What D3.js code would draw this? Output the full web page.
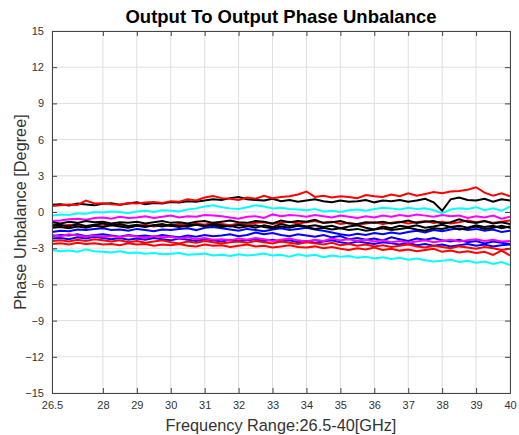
<!DOCTYPE html>
<html><head><meta charset="utf-8">
<script src="https://cdn.jsdelivr.net/npm/d3@7"></script>
<style>
html,body{margin:0;padding:0;background:#fff;}
text{font-family:"Liberation Sans",Arial,sans-serif;}
</style></head>
<body><svg id="chart" width="519" height="435"></svg>
<script>
const title = "Output To Output Phase Unbalance";
const xLabel = "Frequency Range:26.5-40[GHz]";
const yLabel = "Phase Unbalance [Degree]";
const xTicks = [26.5, 28, 29, 30, 31, 32, 33, 34, 35, 36, 37, 38, 39, 40];
const yTicks = [-15, -12, -9, -6, -3, 0, 3, 6, 9, 12, 15];
const freqs = d3.range(0, 55).map(i => 26.5 + i * 0.25);

const blueUpper = [-1.65,-1.55,-1.60,-1.45,-1.50,-1.40,-1.35,-1.50,-1.45,-1.55,-1.40,-1.50,-1.60,-1.45,-1.50,-1.40,-1.35,-1.50,-1.30,-1.25,-1.35,-1.45,-1.55,-1.40,-1.50,-1.60,-1.45,-1.35,-1.50,-1.40,-1.30,-1.45,-1.55,-1.70,-1.85,-1.95,-1.80,-1.90,-1.75,-1.85,-1.70,-1.80,-1.65,-1.55,-1.70,-1.50,-1.60,-1.45,-1.35,-1.50,-1.40,-1.55,-1.45,-1.65,-1.55];
const blueMid = [-2.00,-1.90,-1.95,-1.85,-2.00,-1.90,-1.85,-1.95,-2.05,-1.90,-2.00,-1.95,-2.05,-1.90,-2.00,-2.10,-1.95,-2.05,-1.90,-2.00,-1.95,-1.85,-2.00,-1.90,-1.70,-1.85,-1.75,-1.90,-2.00,-1.85,-1.95,-2.05,-1.90,-2.10,-2.00,-2.25,-2.15,-2.30,-2.20,-2.35,-2.10,-2.25,-2.40,-2.20,-2.30,-2.15,-2.35,-2.45,-2.30,-2.50,-2.40,-2.60,-2.45,-2.55,-2.65];
const blueLower = [-2.20,-2.15,-2.25,-2.10,-2.20,-2.05,-2.15,-2.25,-2.15,-2.30,-2.20,-2.30,-2.15,-2.25,-2.35,-2.20,-2.30,-2.40,-2.25,-2.35,-2.45,-2.30,-2.40,-2.35,-2.25,-2.40,-2.30,-2.45,-2.35,-2.50,-2.40,-2.55,-2.45,-2.35,-2.50,-2.60,-2.45,-2.55,-2.65,-2.50,-2.60,-2.70,-2.55,-2.75,-2.65,-2.80,-2.70,-2.85,-2.75,-2.65,-2.80,-2.70,-2.85,-2.75,-2.70];
const magentaTop = [-0.75,-0.70,-0.60,-0.55,-0.65,-0.50,-0.45,-0.55,-0.40,-0.50,-0.45,-0.35,-0.50,-0.40,-0.30,-0.45,-0.35,-0.40,-0.25,-0.30,-0.35,-0.45,-0.55,-0.40,-0.35,-0.50,-0.20,-0.35,-0.25,-0.30,-0.40,-0.25,-0.35,-0.45,-0.30,-0.40,-0.50,-0.35,-0.45,-0.30,-0.40,-0.25,-0.35,-0.20,-0.30,-0.40,-0.25,-0.35,-0.30,-0.50,-0.35,-0.45,-0.30,-0.55,-0.40];
const magentaLower = [-1.90,-2.00,-1.85,-1.95,-2.05,-1.95,-2.05,-2.00,-2.10,-1.95,-2.05,-2.15,-2.00,-2.10,-2.05,-2.20,-2.10,-2.25,-2.15,-2.30,-2.25,-2.35,-2.20,-2.30,-2.15,-2.25,-2.40,-2.30,-2.20,-2.35,-2.45,-2.30,-2.40,-2.20,-2.35,-2.25,-2.40,-2.30,-2.45,-2.35,-2.50,-2.40,-2.55,-2.45,-2.35,-2.50,-2.40,-2.30,-2.45,-2.35,-2.25,-2.40,-2.30,-2.45,-2.40];
const redLowerA = [-2.40,-2.35,-2.45,-2.30,-2.40,-2.25,-2.35,-2.45,-2.35,-2.50,-2.40,-2.55,-2.45,-2.35,-2.50,-2.60,-2.45,-2.55,-2.40,-2.50,-2.60,-2.50,-2.45,-2.55,-2.40,-2.50,-2.60,-2.45,-2.55,-2.65,-2.50,-2.60,-2.70,-2.55,-2.75,-2.65,-2.80,-2.70,-2.85,-2.75,-2.90,-2.80,-2.70,-2.85,-2.95,-2.80,-2.90,-3.00,-2.85,-2.95,-3.05,-2.90,-3.00,-3.15,-3.05];
const redLowerB = [-2.65,-2.60,-2.70,-2.55,-2.65,-2.60,-2.70,-2.65,-2.75,-2.60,-2.70,-2.65,-2.80,-2.70,-2.75,-2.65,-2.80,-2.85,-2.70,-2.80,-2.75,-2.90,-2.80,-2.70,-2.85,-2.80,-2.95,-2.85,-2.75,-2.90,-2.95,-2.85,-3.00,-2.90,-3.05,-3.15,-3.00,-3.10,-2.95,-3.15,-3.05,-3.20,-3.10,-3.25,-3.15,-3.05,-3.30,-3.20,-3.35,-3.25,-3.40,-3.30,-3.55,-3.20,-3.60];
const cyanTop = [-0.30,-0.20,-0.25,-0.10,-0.15,0.00,-0.05,0.05,0.00,-0.10,0.05,0.10,0.00,0.15,0.10,0.05,0.20,0.30,0.45,0.55,0.40,0.30,0.25,0.40,0.55,0.45,0.30,0.35,0.25,0.20,0.15,0.25,0.05,0.10,0.00,0.15,0.20,0.10,0.25,0.35,0.30,0.20,0.35,0.25,0.30,0.15,-0.10,0.20,0.30,0.25,0.40,0.15,0.30,0.10,0.45];
const cyanLow = [-3.15,-3.25,-3.20,-3.30,-3.10,-3.25,-3.30,-3.35,-3.25,-3.40,-3.35,-3.45,-3.40,-3.50,-3.45,-3.40,-3.55,-3.50,-3.45,-3.60,-3.55,-3.65,-3.50,-3.60,-3.55,-3.45,-3.60,-3.55,-3.70,-3.50,-3.65,-3.55,-3.75,-3.60,-3.70,-3.65,-3.80,-3.70,-3.85,-3.75,-3.90,-3.80,-3.95,-3.85,-4.00,-4.10,-4.05,-3.95,-4.15,-4.05,-4.20,-4.10,-4.30,-4.15,-4.40];
const blackMidA = [-0.85,-0.95,-0.80,-0.90,-0.75,-0.85,-0.80,-0.95,-0.85,-0.90,-0.80,-0.95,-0.85,-0.75,-0.90,-0.85,-0.95,-0.80,-0.75,-0.90,-0.80,-0.70,-0.85,-0.90,-0.75,-0.80,-0.95,-0.70,-0.85,-0.75,-0.80,-0.65,-0.90,-0.85,-0.75,-0.95,-1.00,-0.85,-0.90,-0.80,-0.95,-0.85,-0.70,-0.90,-0.80,-0.75,-0.95,-0.85,-0.60,-0.80,-0.90,-0.75,-0.95,-0.85,-1.00];
const blackMidB = [-1.10,-1.05,-1.20,-1.00,-1.15,-1.05,-0.95,-1.10,-1.00,-1.15,-1.05,-1.20,-1.10,-1.00,-1.15,-1.25,-1.10,-1.05,-1.15,-1.00,-1.10,-1.20,-1.05,-1.15,-1.30,-1.10,-1.25,-1.00,-1.15,-1.05,-1.20,-1.10,-1.25,-1.15,-1.35,-1.20,-1.10,-1.30,-1.45,-1.20,-1.35,-1.15,-1.25,-1.10,-1.30,-1.20,-1.05,-1.25,-1.15,-1.30,-1.10,-1.25,-1.15,-1.35,-1.20];
const blackMidC = [-1.30,-1.25,-1.35,-1.20,-1.30,-1.15,-1.25,-1.10,-1.20,-1.30,-1.15,-1.25,-1.10,-1.20,-1.05,-1.15,-1.20,-1.05,-1.15,-1.10,-1.25,-1.15,-1.30,-1.20,-1.10,-1.25,-1.35,-1.20,-1.30,-1.15,-1.25,-1.40,-1.30,-1.45,-1.35,-1.50,-1.40,-1.55,-1.45,-1.35,-1.50,-1.40,-1.30,-1.45,-1.55,-1.35,-1.40,-1.25,-1.45,-1.35,-1.20,-1.40,-1.30,-1.15,-1.30];
const blackTop = [0.60,0.65,0.55,0.70,0.62,0.55,0.68,0.72,0.60,0.70,0.80,0.65,0.75,0.70,0.82,0.78,0.90,0.85,0.95,1.05,1.00,1.15,1.25,1.05,1.00,0.95,1.10,0.90,1.00,0.85,0.95,1.05,0.90,0.80,0.95,0.85,0.90,1.00,0.80,0.95,0.90,1.00,0.85,0.95,1.10,0.80,0.10,1.05,1.20,1.00,0.95,1.10,0.85,1.05,0.95];
const redTop = [0.50,0.55,0.62,0.58,0.95,0.70,0.72,0.65,0.60,0.75,0.70,0.78,0.82,0.75,0.90,0.85,1.05,0.95,1.20,1.32,1.15,1.10,1.00,1.20,1.10,1.35,1.15,1.25,1.30,1.45,1.70,1.25,1.35,1.20,1.30,1.25,1.15,1.40,1.30,1.25,1.45,1.30,1.55,1.35,1.50,1.65,1.55,1.70,1.75,1.85,2.05,1.60,1.35,1.55,1.30];
const redMid = [-1.15,-1.20,-1.05,-1.15,-1.25,-1.10,-1.20,-1.00,-1.10,-1.25,-1.15,-1.05,-1.20,-1.10,-1.15,-1.00,-1.10,-0.95,-1.05,-0.90,-1.00,-1.10,-0.95,-1.05,-0.90,-0.85,-1.00,-0.90,-0.80,-0.95,-0.85,-0.75,-0.90,-0.80,-1.00,-0.90,-1.05,-0.95,-0.85,-1.00,-0.90,-0.80,-0.95,-0.85,-0.75,-0.90,-0.80,-0.95,-0.85,-0.70,-0.85,-0.75,-0.90,-0.80,-0.70];

const seriesList = [
  {values: blueUpper, color: "#0000ff"},
  {values: blueMid, color: "#0000ff"},
  {values: blueLower, color: "#0000ff"},
  {values: magentaTop, color: "#ff00ff"},
  {values: magentaLower, color: "#ff00ff"},
  {values: redLowerA, color: "#ff0000"},
  {values: redLowerB, color: "#ff0000"},
  {values: cyanTop, color: "#00ffff"},
  {values: cyanLow, color: "#00ffff"},
  {values: redMid, color: "#ff0000"},
  {values: blackMidA, color: "#000000"},
  {values: blackMidB, color: "#000000"},
  {values: blackMidC, color: "#000000"},
  {values: blackTop, color: "#000000"},
  {values: redTop, color: "#ff0000"}
];

const svg = d3.select("#chart");
const L = 52, R = 510, T = 31, B = 393;
const x = d3.scaleLinear().domain([26.5, 40]).range([L, R]);
const y = d3.scaleLinear().domain([-15, 15]).range([B, T]);

// grid
const g = svg.append("g");
g.selectAll(".vg").data(xTicks).join("line")
  .attr("x1", d => x(d)).attr("x2", d => x(d)).attr("y1", T).attr("y2", B)
  .attr("stroke", "#dfdfdf").attr("stroke-width", 1);
g.selectAll(".hg").data(yTicks).join("line")
  .attr("y1", d => y(d)).attr("y2", d => y(d)).attr("x1", L).attr("x2", R)
  .attr("stroke", "#dfdfdf").attr("stroke-width", 1);

// lines
const line = d3.line().x((d, i) => x(freqs[i])).y(d => y(d));
svg.append("g").selectAll("path").data(seriesList).join("path")
  .attr("d", d => line(d.values))
  .attr("fill", "none").attr("stroke", d => d.color)
  .attr("stroke-width", 2).attr("stroke-linejoin", "miter");

// axes
const axisColor = "#444";
const xAxisB = d3.axisBottom(x).tickValues(xTicks).tickSize(-5).tickPadding(8).tickFormat(d => d);
const xAxisT = d3.axisTop(x).tickValues(xTicks).tickSize(-5).tickFormat("");
const yAxisL = d3.axisLeft(y).tickValues(yTicks).tickSize(-5).tickPadding(8);
const yAxisR = d3.axisRight(y).tickValues(yTicks).tickSize(-5).tickFormat("");

function style(sel) {
  sel.select(".domain").attr("stroke", axisColor);
  sel.selectAll(".tick line").attr("stroke", axisColor);
  sel.selectAll(".tick text").attr("fill", "#333").style("font-size", "11px")
    .style("font-family", '"Liberation Sans", Arial, sans-serif');
}
svg.append("g").attr("transform", `translate(0,${B})`).call(xAxisB).call(style);
svg.append("g").attr("transform", `translate(0,${T})`).call(xAxisT).call(style);
svg.append("g").attr("transform", `translate(${L},0)`).call(yAxisL).call(style);
svg.append("g").attr("transform", `translate(${R},0)`).call(yAxisR).call(style);

// texts
svg.append("text").attr("x", (L + R) / 2).attr("y", 23).attr("text-anchor", "middle")
  .style("font-size", "18.5px").style("font-weight", "bold").attr("fill", "#000").text(title);
svg.append("text").attr("x", (L + R) / 2).attr("y", 431).attr("text-anchor", "middle")
  .style("font-size", "16.3px").attr("fill", "#333").text(xLabel);
svg.append("text").attr("transform", `translate(26,${(T + B) / 2}) rotate(-90)`).attr("text-anchor", "middle")
  .style("font-size", "16.3px").attr("fill", "#333").text(yLabel);
</script></body></html>
